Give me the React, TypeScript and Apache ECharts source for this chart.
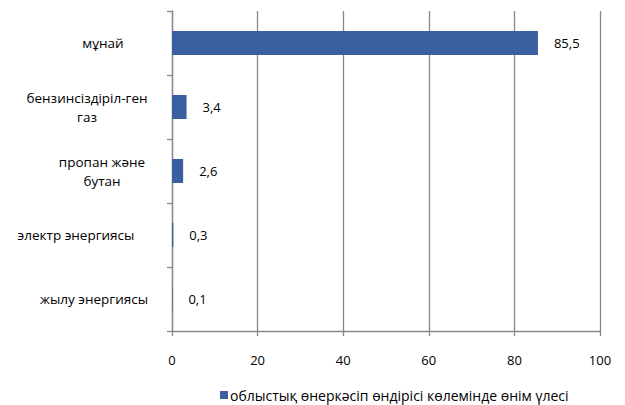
import React, { useEffect, useRef } from "react";
import * as echarts from "echarts";

const categories = [
  "мұнай",
  "бензинсіздіріл-ген\nгаз",
  "пропан және\nбутан",
  "электр энергиясы",
  "жылу энергиясы",
];
const values = [85.5, 3.4, 2.6, 0.3, 0.1];
const seriesName = "облыстық өнеркәсіп өндірісі көлемінде өнім үлесі";
const xMin = 0;
const xMax = 100;
const xStep = 20;

// horizontal nudges (px) of each category label around the common centre
const labelShift = [8, -8, 7, -19, -1];

export default function App() {
  const ref = useRef<HTMLDivElement>(null);
  useEffect(() => {
    if (!ref.current) return;
    const chart = echarts.init(ref.current, undefined, { renderer: "svg" });
    const font = "Open Sans";
    const axisColor = "#888888";
    const rich: Record<string, any> = {};
    labelShift.forEach((d, i) => {
      rich["s" + i] = {
        fontSize: 13.5,
        lineHeight: 19,
        fontFamily: font,
        color: "#000",
        align: "center",
        padding: d >= 0 ? [0, 0, 0, 2 * d] : [0, -2 * d, 0, 0],
      };
    });
    chart.setOption({
      animation: false,
      backgroundColor: "#ffffff",
      textStyle: { fontFamily: font },
      grid: { left: 172, right: 25, top: 11, bottom: 74, containLabel: false },
      legend: {
        data: [seriesName],
        left: 215,
        top: 383,
        icon: "rect",
        itemWidth: 8,
        itemHeight: 8,
        itemGap: 4,
        textStyle: { fontFamily: font, fontSize: 14, color: "#000", padding: [0, 0, 0, -3] },
      },
      xAxis: {
        type: "value",
        min: xMin,
        max: xMax,
        interval: xStep,
        axisLine: { show: true, lineStyle: { color: axisColor, width: 1.3 } },
        axisTick: { show: true, length: 5, lineStyle: { color: axisColor, width: 1.3 } },
        splitLine: { show: true, lineStyle: { color: axisColor, width: 1.3 } },
        axisLabel: { color: "#000", fontSize: 13, margin: 22, fontFamily: font },
      },
      yAxis: {
        type: "category",
        inverse: true,
        data: categories,
        axisLine: { show: true, lineStyle: { color: axisColor, width: 1.3 } },
        axisTick: { show: true, length: 5, alignWithLabel: false, lineStyle: { color: axisColor, width: 1.3 } },
        splitLine: { show: false },
        axisLabel: {
          color: "#000",
          fontSize: 13.5,
          lineHeight: 19,
          align: "center",
          margin: 77,
          fontFamily: font,
          formatter: (v: string, i: number) =>
            v
              .split("\n")
              .map((line) => "{s" + i + "|" + line + "}")
              .join("\n"),
          rich,
        },
      },
      series: [
        {
          name: seriesName,
          type: "bar",
          data: values,
          barWidth: 24,
          itemStyle: { color: "#3A5F9E" },
          label: {
            show: true,
            position: "right",
            distance: 16,
            color: "#000",
            fontSize: 13,
            fontFamily: font,
            formatter: (p: any) => String(p.value).replace(".", ","),
          },
        },
      ],
    });
    return () => chart.dispose();
  }, []);
  return (
    <div
      ref={ref}
      style={{ position: "fixed", left: 0, top: 0, width: 625, height: 405 }}
    />
  );
}
